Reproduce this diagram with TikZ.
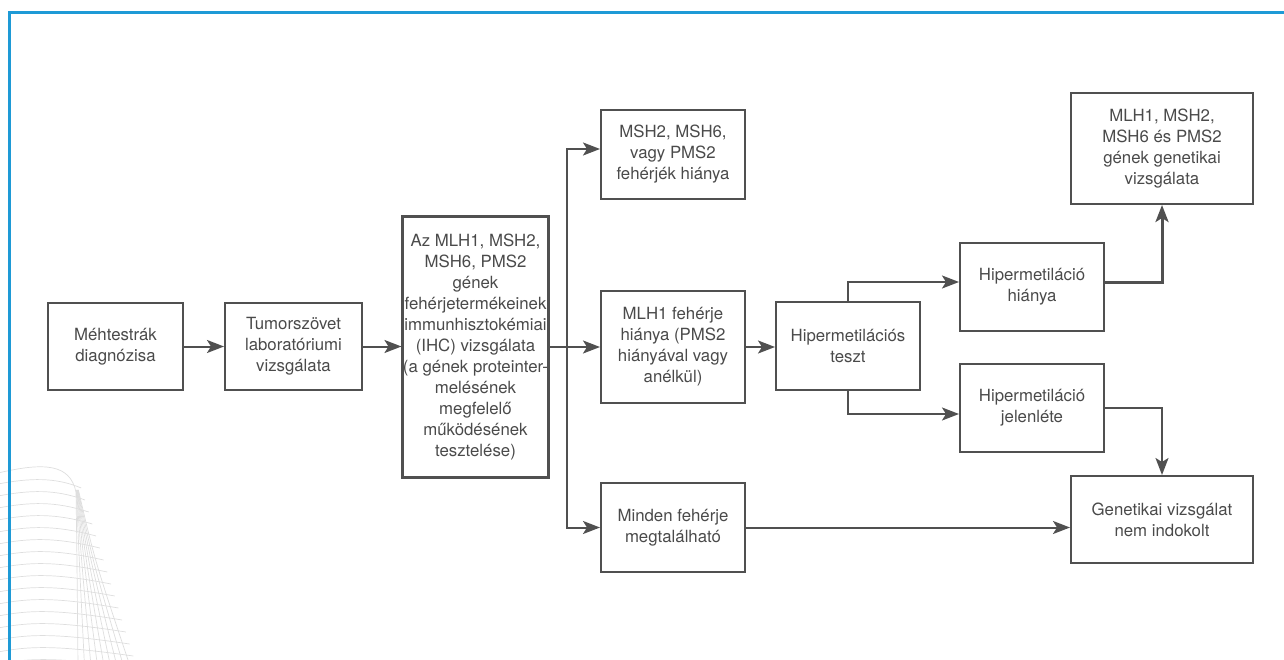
\documentclass[tikz,border=0pt]{standalone}
\usepackage{fontspec}
\setmainfont{TeX Gyre Heros}
\usetikzlibrary{arrows.meta}
\definecolor{bl}{HTML}{1E9AD6}
\definecolor{ln}{HTML}{505050}
\definecolor{tx}{HTML}{4A4A4A}
\definecolor{meshc}{HTML}{DEDEDE}
\begin{document}
\begin{tikzpicture}[x=1pt,y=-1pt,
  box/.style={draw=ln, line width=2pt, text=tx, align=center, inner sep=0pt,
    font=\fontsize{16.8}{21}\selectfont, minimum width=144pt, minimum height=88pt},
  arr/.style={draw=ln, line width=2pt, -{Stealth[length=17pt,width=13pt,inset=4pt]}},
  conn/.style={draw=ln, line width=2pt}]
\useasboundingbox (0,0) rectangle (1284,660);
% decorative mesh
\begin{scope}
\clip (0,0) rectangle (1284,660);
\begin{scope}[draw=meshc, line width=0.7pt]
\draw (-2,473) .. controls (45,462) and (70,464) .. (76,492);
\foreach \j in {0,...,8} {
  \pgfmathsetmacro\xe{78+6.5*\j}
  \pgfmathsetmacro\xc{77+2.2*\j}
  \draw (76+0.3*\j,490) .. controls (\xc,560) .. (\xe,666);
}
\foreach \i in {1,...,17} {
  \pgfmathsetmacro\yy{472+12*\i}
  \pgfmathsetmacro\xr{80+0.31*(\yy-480)}
  \pgfmathsetmacro\ya{\yy-6}
  \pgfmathsetmacro\yb{\yy-7}
  \pgfmathsetmacro\yc{\yy+4}
  \draw (-2,\yy) .. controls (30,\ya) and (55,\yb) .. (\xr,\yc);
}
\end{scope}
\end{scope}
% blue frame
\draw[bl, line width=3pt] (9,662) -- (9,12.5) -- (1286,12.5);
% nodes
\node[box, minimum width=135pt, minimum height=87pt] (meh) at (115.5,346.5) {Méhtestrák\\diagnózisa};
\node[box, minimum width=137pt, minimum height=87pt] (tumor) at (293.5,346.5) {Tumorszövet\\laboratóriumi\\vizsgálata};
\node[box, line width=3pt, minimum width=145pt, minimum height=260pt] (ihc) at (475.5,347) {Az MLH1, MSH2,\\MSH6, PMS2\\gének\\fehérjetermékeinek\\immunhisztokémiai\\(IHC) vizsgálata\\(a gének proteinter-\\melésének\\megfelelő\\működésének\\tesztelése)};
\node[box, minimum height=89pt] (msh) at (673,154.5) {MSH2, MSH6,\\vagy PMS2\\fehérjék hiánya};
\node[box, minimum height=112pt] (mlh) at (673,347) {MLH1 fehérje\\hiánya (PMS2\\hiányával vagy\\anélkül)};
\node[box, minimum height=89pt] (minden) at (673,527.5) {Minden fehérje\\megtalálható};
\node[box] (teszt) at (848,346) {Hipermetilációs\\teszt};
\node[box] (hiany) at (1032,287) {Hipermetiláció\\hiánya};
\node[box] (jelen) at (1032,408) {Hipermetiláció\\jelenléte};
\node[box, minimum width=182pt, minimum height=87pt] (gen) at (1162,519.5) {Genetikai vizsgálat\\nem indokolt};
\node[box, minimum width=182pt, minimum height=111pt] (top) at (1162,148.5) {MLH1, MSH2,\\MSH6 és PMS2\\gének genetikai\\vizsgálata};
% connectors
\coordinate (br) at (567,347);
\draw[arr] (meh) -- (tumor);
\draw[arr] (tumor.east) -- (tumor.east -| ihc.west);
\draw[conn] (ihc.east) -- (br);
\draw[arr] (br) |- ([yshift=5.5pt]msh.west);
\draw[arr] (br) -- (mlh.west);
\draw[arr] (br) |- (minden.west);
\draw[arr] (mlh.east) -- (mlh.east -| teszt.west);
\draw[arr] (teszt.north) |- ([yshift=5pt]hiany.west);
\draw[arr] (teszt.south) |- ([yshift=-6pt]jelen.west);
\draw[arr, line width=3pt] ([yshift=5pt]hiany.east) -| (top.south);
\draw[arr] (jelen.east) -| (gen.north);
\draw[arr] (minden.east) -- (minden.east -| gen.west);
\end{tikzpicture}
\end{document}
